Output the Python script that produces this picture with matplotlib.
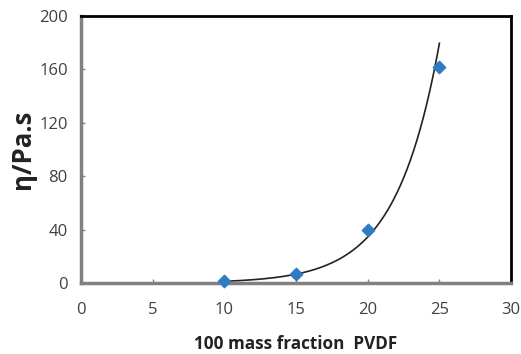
import numpy as np
import matplotlib.pyplot as plt

plt.rcParams['font.family'] = ['Open Sans', 'DejaVu Sans']

# measured points
mass_fraction = [10, 15, 20, 25]
viscosity = [1.5, 7, 40, 162]

# exponential trendline y = a * exp(b * x)
trend_a = 0.0469
trend_b = 0.33
trend_x = np.linspace(10, 25, 200)
trend_y = trend_a * np.exp(trend_b * trend_x)

fig = plt.figure(figsize=(5.21, 3.54), dpi=100)
ax = fig.add_axes([0.1555, 0.2006, 0.8255, 0.7544])

ax.plot(trend_x, trend_y, color='#222222', lw=1.2, zorder=2)
ax.scatter(mass_fraction, viscosity, marker='D', s=40, color='#2e7bc4',
           zorder=3, clip_on=False)

ax.set_xlim(0, 30)
ax.set_ylim(0, 200)
ax.set_xticks([0, 5, 10, 15, 20, 25, 30])
ax.set_yticks([0, 40, 80, 120, 160, 200])

for side in ['left', 'bottom']:
    ax.spines[side].set_color('#808080')
    ax.spines[side].set_linewidth(2.5)
for side in ['top', 'right']:
    ax.spines[side].set_color('black')
    ax.spines[side].set_linewidth(2)

ax.tick_params(direction='in', length=3, width=1, color='#808080',
               labelsize=12, labelcolor='#404040')
ax.tick_params(axis='y', pad=9.5)
ax.tick_params(axis='x', pad=14)

ax.set_xlabel('100 mass fraction  PVDF', fontsize=12.3, fontweight='bold',
              color='#222222', labelpad=12)
ax.set_ylabel('η/Pa.s', fontsize=18.5, fontweight='bold', color='#222222',
              labelpad=2)

fig.savefig('out.png', dpi=100)
